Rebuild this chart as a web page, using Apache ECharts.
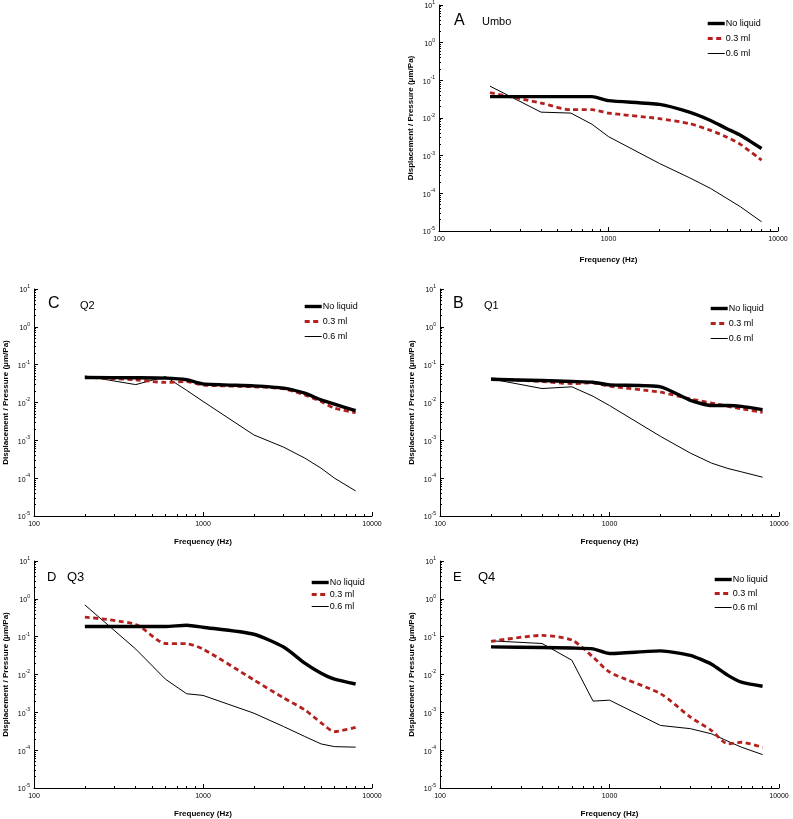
<!DOCTYPE html>
<html><head><meta charset="utf-8">
<script src="https://cdn.jsdelivr.net/npm/echarts@6/dist/echarts.min.js"></script>
<style>html,body{margin:0;padding:0;background:#fff}#c{width:793px;height:819px}</style>
</head><body><div id="c"></div><script>
// ---- data ----
const freqs = [200, 400, 600, 800, 1000, 2000, 3000, 4000, 5000, 6000, 8000];
const seriesNames = ['No liquid', '0.3 ml', '0.6 ml'];
const xTickLabels = [100, 1000, 10000];
const yTickExponents = [-5, -4, -3, -2, -1, 0, 1];

// A Umbo
const umboNoLiquid = [0.037, 0.037, 0.037, 0.037, 0.029, 0.023, 0.0143, 0.0086, 0.0052, 0.0035, 0.00155];
const umbo03 = [0.047, 0.025, 0.0166, 0.0166, 0.0135, 0.0096, 0.0071, 0.0047, 0.0031, 0.0020, 0.00076];
const umbo06 = [0.07, 0.0143, 0.0135, 0.0068, 0.0032, 0.00062, 0.00026, 0.000135, 0.000073, 0.000044, 0.0000176];
// C Q2
const q2NoLiquid = [0.046, 0.045, 0.044, 0.040, 0.031, 0.0275, 0.024, 0.0176, 0.0117, 0.009, 0.0061];
const q203 = [0.047, 0.0396, 0.034, 0.0357, 0.029, 0.026, 0.023, 0.0158, 0.0106, 0.0071, 0.0054];
const q206 = [0.05, 0.0297, 0.0484, 0.021, 0.0107, 0.00139, 0.00066, 0.00034, 0.000183, 0.0001, 0.000046];
// B Q1
const q1NoLiquid = [0.041, 0.038, 0.0358, 0.0344, 0.0293, 0.026, 0.0114, 0.0083, 0.0083, 0.0079, 0.0065];
const q103 = [0.042, 0.036, 0.0316, 0.033, 0.027, 0.0187, 0.0124, 0.0097, 0.0079, 0.0068, 0.0055];
const q106 = [0.042, 0.0234, 0.026, 0.0146, 0.0083, 0.00127, 0.00046, 0.00025, 0.00018, 0.000147, 0.000106];
// D Q3
const q3NoLiquid = [0.185, 0.185, 0.185, 0.2, 0.178, 0.116, 0.053, 0.02, 0.0108, 0.0075, 0.0056];
const q303 = [0.328, 0.21, 0.066, 0.065, 0.047, 0.0072, 0.0024, 0.00116, 0.00053, 0.00031, 0.0004];
const q306 = [0.69, 0.047, 0.0075, 0.0031, 0.0028, 0.00095, 0.00042, 0.00023, 0.000146, 0.000124, 0.00012];
// E Q4
const q4NoLiquid = [0.0537, 0.0518, 0.050, 0.0474, 0.0358, 0.042, 0.032, 0.0187, 0.0095, 0.0063, 0.0049];
const q403 = [0.0746, 0.108, 0.081, 0.029, 0.0116, 0.0031, 0.00075, 0.00033, 0.000147, 0.000162, 0.000119];
const q406 = [0.0776, 0.066, 0.0238, 0.00198, 0.0021, 0.00045, 0.00037, 0.00027, 0.000172, 0.00012, 0.0000764];

// ---- layout ----
const FONT = '"Liberation Sans", Arial, sans-serif';
const panels = [
  {letter:'A', sub:'Umbo', data:[umboNoLiquid, umbo03, umbo06],
   grid:{left:439, top:5, width:339, height:226},
   legend:{left:701, top:14, gap:6}, lt:{x:454, y:21, s:16}, st:{x:482, y:22, s:11}},
  {letter:'C', sub:'Q2', data:[q2NoLiquid, q203, q206],
   grid:{left:34, top:289, width:338, height:227},
   legend:{left:298, top:297, gap:6}, lt:{x:48, y:304, s:16}, st:{x:80, y:306, s:11}},
  {letter:'B', sub:'Q1', data:[q1NoLiquid, q103, q106],
   grid:{left:440, top:289, width:339, height:227},
   legend:{left:704, top:299, gap:6}, lt:{x:453, y:304, s:16}, st:{x:484, y:306, s:11}},
  {letter:'D', sub:'Q3', data:[q3NoLiquid, q303, q306],
   grid:{left:34, top:561, width:338, height:227},
   legend:{left:305, top:573, gap:3}, lt:{x:47, y:577, s:13}, st:{x:67, y:577, s:13}},
  {letter:'E', sub:'Q4', data:[q4NoLiquid, q403, q406],
   grid:{left:440, top:561, width:339, height:227},
   legend:{left:708, top:570, gap:5}, lt:{x:453, y:577, s:13}, st:{x:478, y:577, s:13}}
];

const xMinor = [];
[100, 1000].forEach(d => { for (let k = 2; k <= 9; k++) xMinor.push(k * d); });
const yMajor = yTickExponents.map(e => Math.pow(10, e));
const yMinor = [];
yTickExponents.slice(0, -1).forEach(e => { for (let k = 2; k <= 9; k++) yMinor.push(k * Math.pow(10, e)); });

const lineStyles = [
  {color:'#000', width:3.4, type:'solid'},
  {color:'#b3201d', width:2.8, type:[5, 3.5]},
  {color:'#000', width:1, type:'solid'}
];
const smooths = [0.2, 0.25, 0];

const option = {animation:false, backgroundColor:'#fff', grid:[], xAxis:[], yAxis:[], series:[], legend:[], graphic:[]};

panels.forEach((p, i) => {
  option.grid.push(Object.assign({containLabel:false}, p.grid));
  option.xAxis.push({
    gridIndex:i, type:'log', logBase:10, min:100, max:10000,
    axisLine:{lineStyle:{color:'#000', width:1}},
    axisTick:{inside:true, length:4, customValues:xTickLabels, lineStyle:{color:'#000'}},
    axisLabel:{customValues:xTickLabels, fontSize:7, color:'#000', margin:5, fontFamily:FONT,
      formatter: v => String(Math.round(v))},
    splitLine:{show:false},
    name:'Frequency (Hz)', nameLocation:'middle', nameGap:i === 0 ? 25 : 22,
    nameTextStyle:{fontWeight:'bold', fontSize:8, color:'#000', fontFamily:FONT}
  });
  option.xAxis.push({
    gridIndex:i, type:'log', logBase:10, min:100, max:10000, position:'bottom',
    axisLine:{show:false}, axisLabel:{show:false}, splitLine:{show:false},
    axisTick:{inside:true, length:2, customValues:xMinor, lineStyle:{color:'#000'}}
  });
  option.yAxis.push({
    gridIndex:i, type:'log', logBase:10, min:1e-5, max:10, position:'left',
    axisLine:{show:true, lineStyle:{color:'#000', width:1}},
    axisTick:{show:true, inside:true, length:4, customValues:yMajor, lineStyle:{color:'#000'}},
    axisLabel:{customValues:yMajor, margin:4, color:'#000',
      formatter: v => '{b|10}{s|' + Math.round(Math.log10(v)) + '}',
      rich:{b:{fontSize:7, fontFamily:FONT, lineHeight:10, verticalAlign:'bottom', color:'#000'},
            s:{fontSize:5, fontFamily:FONT, lineHeight:6, verticalAlign:'top', color:'#000'}}},
    splitLine:{show:false},
    name:'Displacement / Pressure (\u03bcm/Pa)', nameLocation:'middle', nameGap:24,
    nameTextStyle:{fontWeight:'bold', fontSize:8, color:'#000', fontFamily:FONT}
  });
  option.yAxis.push({
    gridIndex:i, type:'log', logBase:10, min:1e-5, max:10, position:'left',
    axisLine:{show:false}, axisLabel:{show:false}, splitLine:{show:false},
    axisTick:{show:true, inside:true, length:2, customValues:yMinor, lineStyle:{color:'#000'}}
  });
  p.data.forEach((arr, k) => {
    option.series.push({
      type:'line', name:seriesNames[k], xAxisIndex:2 * i, yAxisIndex:2 * i,
      data:freqs.map((f, j) => [f, arr[j]]),
      symbol:'none', showSymbol:false, smooth:smooths[k],
      lineStyle:Object.assign({cap:'butt', join:'round'}, lineStyles[k]),
      itemStyle:{color:lineStyles[k].color},
      z:3 - k
    });
  });
  option.legend.push({
    data:seriesNames, orient:'vertical', left:p.legend.left, top:p.legend.top,
    itemWidth:17, itemHeight:10, itemGap:p.legend.gap, selectedMode:false,
    lineStyle:{width:'inherit'},
    itemStyle:{opacity:0, borderWidth:0},
    textStyle:{fontSize:9, color:'#000', fontFamily:FONT, padding:[0, 0, 0, -4]}
  });
  option.graphic.push({type:'text', x:p.lt.x, y:p.lt.y,
    style:{text:p.letter, fontSize:p.lt.s, fontFamily:FONT, fill:'#000', verticalAlign:'middle'}});
  option.graphic.push({type:'text', x:p.st.x, y:p.st.y,
    style:{text:p.sub, fontSize:p.st.s, fontFamily:FONT, fill:'#000', verticalAlign:'middle'}});
});

const chart = echarts.init(document.getElementById('c'), null, {renderer:'canvas'});
chart.setOption(option);
</script></body></html>
